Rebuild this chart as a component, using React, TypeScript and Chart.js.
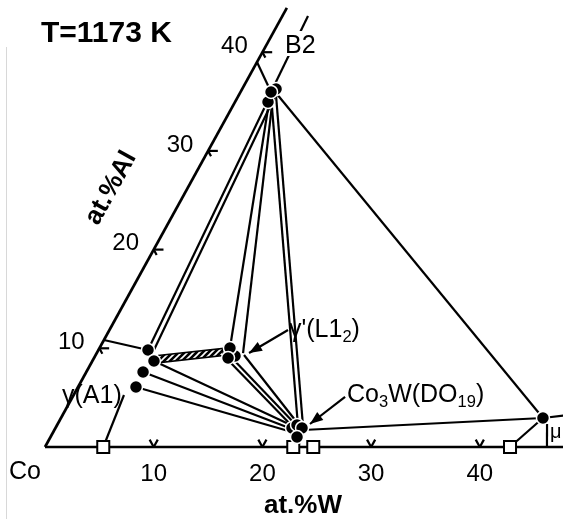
import React, { useEffect, useRef } from "react";
import { Chart, registerables } from "chart.js";

Chart.register(...registerables);

type Comp = [number, number]; // [at.% W, at.% Al]
type Seg = [number, number, number, number]; // W1, Al1, W2, Al2

// Axis ticks (at.%)
const W_TICKS = [10, 20, 30, 40];
const AL_TICKS = [10, 20, 30, 40];

// Measured phase compositions [at.%W, at.%Al]
const B2_POINTS: Comp[] = [
  [3.12, 36.27],
  [3.04, 34.95],
  [2.81, 35.97],
];
const GAMMA_POINTS: Comp[] = [
  [4.56, 9.83],
  [5.67, 8.71],
  [5.22, 7.6],
  [5.33, 6.08],
];
const GAMMA_PRIME_POINTS: Comp[] = [
  [12.87, 9.22],
  [12.0, 10.03],
  [12.33, 9.02],
];
const CO3W_POINTS: Comp[] = [
  [21.76, 1.93],
  [22.07, 2.23],
  [22.68, 1.93],
  [22.68, 1.01],
];
const MU_POINTS: Comp[] = [[44.34, 2.94]];

// Binary Co-W phase boundaries (at.%W, on the Co-W edge)
const BINARY_W = [5.36, 22.84, 24.68, 42.78];

// Tie lines
const TIE_LINES: Seg[] = [
  // B2 - gamma
  [2.9, 35.97, 4.56, 9.83],
  [3.38, 35.56, 5.12, 9.63],
  // B2 - gamma'
  [2.92, 35.56, 12.0, 10.03],
  [3.2, 35.56, 13.46, 9.52],
  // B2 - Co3W
  [2.96, 35.66, 22.21, 2.13],
  [3.42, 35.66, 22.67, 2.13],
  // B2 - mu
  [3.32, 35.87, 44.34, 2.94],
  // gamma - Co3W
  [5.33, 6.08, 21.96, 1.52],
  [5.22, 7.6, 21.81, 1.82],
  [5.67, 8.71, 21.75, 2.13],
  // gamma' - Co3W
  [12.43, 8.81, 21.8, 2.03],
  [12.69, 9.02, 21.98, 2.23],
  [13.65, 9.32, 22.25, 2.23],
  // Co3W - mu
  [22.88, 1.72, 44.34, 2.94],
];

// Phase boundaries
const BOUNDARY_LINES: Seg[] = [
  [2.81, 35.97, 0, 39.0],
  [2.81, 35.97, 2.36, 43.67],
  [0, 10.84, 4.56, 9.83],
  [5.36, 0, 4.63, 5.27],
  [44.34, 2.94, 42.78, 0],
  [44.34, 2.94, 48, 3.45],
  [45.02, 2.33, 46.18, 0],
];

// gamma + gamma' two-phase band
const GAMMA_GP_BAND: Comp[] = [
  [5.76, 9.27],
  [11.39, 9.98],
  [11.74, 9.27],
  [6.3, 8.56],
];

// Label arrows [from -> to]
const ARROWS: Seg[] = [
  [16.43, 11.85, 14.01, 9.52],
  [25.07, 5.07, 23.21, 2.33],
];

// Triangle edges
const EDGES: Seg[] = [
  [0, 0, 0, 44.5],
  [0, 0, 48, 0],
];

const X_MIN = -4.14;
const X_MAX = 47.654;
const Y_MIN = -7.295;
const Y_MAX = 45.289;

const FONT = '"Liberation Sans", Arial, Helvetica, sans-serif';

const toXY = (w: number, a: number) => ({ x: w + a / 2, y: a });

function segDataset(s: Seg, width: number, order = 10): any {
  return {
    type: "scatter",
    data: [toXY(s[0], s[1]), toXY(s[2], s[3])],
    showLine: true,
    borderColor: "#000",
    borderWidth: width,
    pointRadius: 0,
    fill: false,
    order,
  };
}

function drawRuns(
  ctx: CanvasRenderingContext2D,
  runs: [string, boolean][],
  x: number,
  y: number,
  size: number,
  bold = false
) {
  let cx = x;
  for (const [t, sub] of runs) {
    const s = sub ? size * 0.66 : size;
    ctx.font = `${bold ? "bold " : ""}${s}px ${FONT}`;
    ctx.fillText(t, cx, sub ? y + size * 0.2 : y);
    cx += ctx.measureText(t).width;
  }
}

const labelPlugin = {
  id: "ternaryLabels",
  afterDatasetsDraw(chart: any) {
    const ctx: CanvasRenderingContext2D = chart.ctx;
    const xs = chart.scales.x;
    const ys = chart.scales.y;
    const px = (w: number, a: number): [number, number] => [
      xs.getPixelForValue(w + a / 2),
      ys.getPixelForValue(a),
    ];
    ctx.save();
    ctx.fillStyle = "#000";
    ctx.strokeStyle = "#000";

    // arrowheads
    for (const s of ARROWS) {
      const [x1, y1] = px(s[0], s[1]);
      const [x2, y2] = px(s[2], s[3]);
      const ang = Math.atan2(y2 - y1, x2 - x1);
      const L = 13;
      const H = 5;
      ctx.beginPath();
      ctx.moveTo(x2, y2);
      ctx.lineTo(
        x2 - L * Math.cos(ang) + H * Math.sin(ang),
        y2 - L * Math.sin(ang) - H * Math.cos(ang)
      );
      ctx.lineTo(
        x2 - L * Math.cos(ang) - H * Math.sin(ang),
        y2 - L * Math.sin(ang) + H * Math.cos(ang)
      );
      ctx.closePath();
      ctx.fill();
    }

    // tick labels
    ctx.textAlign = "center";
    ctx.textBaseline = "middle";
    ctx.font = `24px ${FONT}`;
    for (const a of AL_TICKS) {
      const [x, y] = px(0, a);
      ctx.fillText(String(a), x - 28, y - 6);
    }
    for (const w of W_TICKS) {
      const [x, y] = px(w, 0);
      ctx.fillText(String(w), x, y + 27);
    }
    const [cx0, cy0] = px(0, 0);
    ctx.font = `25px ${FONT}`;
    ctx.fillText("Co", cx0 - 20, cy0 + 25);

    // axis titles
    ctx.font = `bold 26px ${FONT}`;
    ctx.fillText("at.%W", 303, 506);
    ctx.save();
    ctx.translate(111, 188);
    ctx.rotate((-61 * Math.PI) / 180);
    ctx.fillText("at.%Al", 0, 0);
    ctx.restore();

    // title
    ctx.textAlign = "left";
    ctx.textBaseline = "alphabetic";
    ctx.font = `bold 30px ${FONT}`;
    ctx.fillText("T=1173 K", 41, 42);

    // B2 label with white background
    ctx.font = `25px ${FONT}`;
    const bw = ctx.measureText("B2").width;
    ctx.fillStyle = "#fff";
    ctx.fillRect(284, 31, bw + 2, 25);
    ctx.fillStyle = "#000";
    ctx.fillText("B2", 285, 53);

    // phase labels
    drawRuns(ctx, [["γ(A1)", false]], 62, 403, 25);
    drawRuns(ctx, [["γ'(L1", false], ["2", true], [")", false]], 289, 337, 25);
    drawRuns(
      ctx,
      [["Co", false], ["3", true], ["W(DO", false], ["19", true], [")", false]],
      347,
      402,
      25
    );
    drawRuns(ctx, [["μ", false]], 550, 438, 20);

    ctx.restore();
  },
};

export default function App() {
  const ref = useRef<HTMLCanvasElement | null>(null);

  useEffect(() => {
    const canvas = ref.current;
    if (!canvas) return;
    const ctx = canvas.getContext("2d")!;

    // hatch pattern for the two-phase band
    const pc = document.createElement("canvas");
    pc.width = 6;
    pc.height = 6;
    const pctx = pc.getContext("2d")!;
    pctx.fillStyle = "#000";
    pctx.fillRect(0, 0, 6, 6);
    pctx.strokeStyle = "#fff";
    pctx.lineWidth = 1.6;
    pctx.beginPath();
    pctx.moveTo(0, 6);
    pctx.lineTo(6, 0);
    pctx.moveTo(-3, 3);
    pctx.lineTo(3, -3);
    pctx.moveTo(3, 9);
    pctx.lineTo(9, 3);
    pctx.stroke();
    const pattern = ctx.createPattern(pc, "repeat");

    const datasets: any[] = [];

    // points first (drawn on top via order)
    const circleDs = (pts: Comp[]) => ({
      type: "scatter",
      data: pts.map(([w, a]) => toXY(w, a)),
      pointRadius: 6.5,
      pointBackgroundColor: "#000",
      pointBorderColor: "#fff",
      pointBorderWidth: 1.5,
      showLine: false,
      order: 0,
    });
    datasets.push(circleDs(B2_POINTS));
    datasets.push(circleDs(GAMMA_POINTS));
    datasets.push(circleDs(GAMMA_PRIME_POINTS));
    datasets.push(circleDs(CO3W_POINTS));
    datasets.push(circleDs(MU_POINTS));
    datasets.push({
      type: "scatter",
      data: BINARY_W.map((w) => toXY(w, 0)),
      pointStyle: "rect",
      pointRadius: 8.5,
      pointBackgroundColor: "#fff",
      pointBorderColor: "#000",
      pointBorderWidth: 2,
      showLine: false,
      order: 1,
    });

    // band
    datasets.push({
      type: "scatter",
      data: [...GAMMA_GP_BAND, GAMMA_GP_BAND[0]].map(([w, a]) => toXY(w, a)),
      showLine: true,
      borderColor: "#000",
      borderWidth: 1.6,
      backgroundColor: pattern,
      fill: "shape",
      pointRadius: 0,
      order: 5,
    });

    for (const s of TIE_LINES) datasets.push(segDataset(s, 2.2));
    for (const s of BOUNDARY_LINES) datasets.push(segDataset(s, 2.2));
    for (const s of ARROWS) datasets.push(segDataset(s, 2.2));
    for (const s of EDGES) datasets.push(segDataset(s, 2.7));

    // ticks
    for (const a of AL_TICKS) {
      datasets.push(segDataset([0, a, 0.9, a], 2.2));
      datasets.push(segDataset([0, a, 0.55, a - 0.55], 2.2));
    }
    for (const w of W_TICKS) {
      datasets.push(segDataset([w, 0, w, 0.75], 2.2));
      datasets.push(segDataset([w, 0, w - 0.75, 0.75], 2.2));
    }

    const chart = new Chart(ctx, {
      type: "scatter",
      data: { datasets },
      options: {
        responsive: false,
        animation: false,
        devicePixelRatio: 1,
        events: [],
        layout: { padding: 0, autoPadding: false },
        plugins: {
          legend: { display: false },
          tooltip: { enabled: false },
          title: { display: false },
        },
        scales: {
          x: { type: "linear", min: X_MIN, max: X_MAX, display: false },
          y: { type: "linear", min: Y_MIN, max: Y_MAX, display: false },
        },
      },
      plugins: [labelPlugin],
    } as any);

    return () => chart.destroy();
  }, []);

  return (
    <div
      style={{
        position: "fixed",
        left: 0,
        top: 0,
        width: 563,
        height: 519,
        background: "#fff",
      }}
    >
      <div
        style={{
          position: "absolute",
          left: 6,
          top: 47,
          width: 1,
          height: 472,
          background: "#d8d8d8",
        }}
      />
      <canvas
        ref={ref}
        width={563}
        height={519}
        style={{ position: "absolute", left: 0, top: 0, display: "block" }}
      />
    </div>
  );
}
